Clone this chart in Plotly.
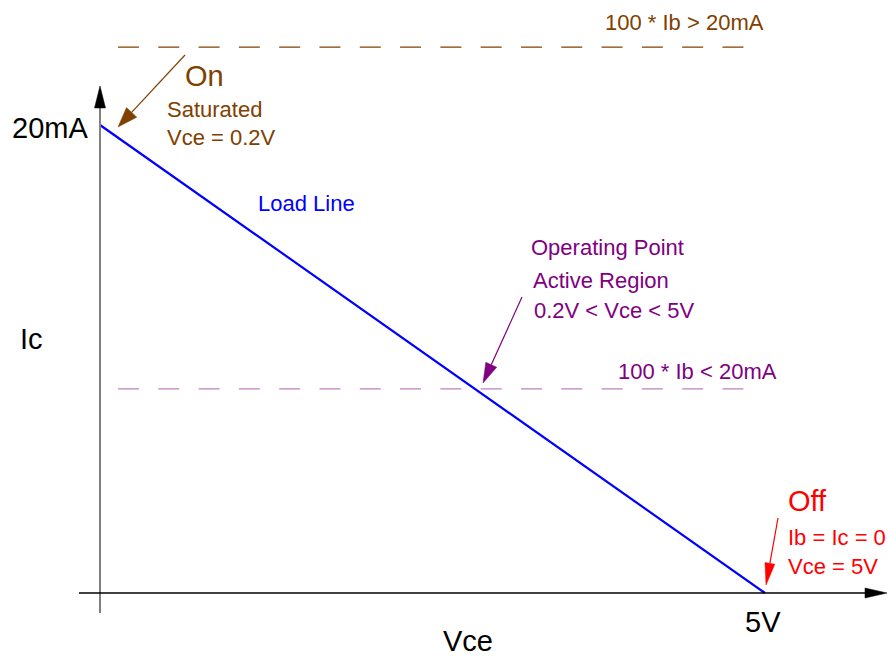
import math
import plotly.graph_objects as go

# ---------------- data ----------------
vce_load = [0, 5]          # V
ic_load = [20, 0]          # mA
sat_level = 23.33          # mA  (100*Ib > 20mA reference line)
active_level = 8.72        # mA  (100*Ib < 20mA reference line)
dash_x = [0.135, 4.86]     # V extent of the dashed reference lines

W, H = 888, 658
PX_X0, PX_PER_V = 100, 133.0
PX_Y0, PX_PER_MA = 593, 23.4


def dx(px):
    return (px - PX_X0) / PX_PER_V


def dy(py):
    return (PX_Y0 - py) / PX_PER_MA


FONT = "Liberation Sans, Arial, Helvetica, sans-serif"
BROWN = "#804000"
PURPLE = "#800080"
LPURPLE = "#c080c0"
RED = "#ff0000"
BLUE = "#0000ff"

fig = go.Figure()

fig.add_trace(go.Scatter(x=dash_x, y=[sat_level, sat_level], mode="lines",
                         line=dict(color=BROWN, width=1.3, dash="21px,19.3px"),
                         hoverinfo="skip", showlegend=False))
fig.add_trace(go.Scatter(x=dash_x, y=[active_level, active_level], mode="lines",
                         line=dict(color=LPURPLE, width=1.3, dash="21px,19.3px"),
                         hoverinfo="skip", showlegend=False))
fig.add_trace(go.Scatter(x=vce_load, y=ic_load, mode="lines",
                         line=dict(color=BLUE, width=2.2),
                         hoverinfo="skip", showlegend=False))


def arrow(tail, tip, color, lw, hl, hw, draw_line=True):
    tx, ty = tail
    px, py = tip
    L = math.hypot(px - tx, py - ty)
    ux, uy = (px - tx) / L, (py - ty) / L
    bx, by = px - ux * hl, py - uy * hl
    nx, ny = -uy, ux
    if draw_line:
        fig.add_shape(type="line", x0=dx(tx), y0=dy(ty), x1=dx(bx), y1=dy(by),
                      line=dict(color=color, width=lw))
    pts = [(px, py), (bx + nx * hw / 2, by + ny * hw / 2), (bx - nx * hw / 2, by - ny * hw / 2)]
    path = "M " + " L ".join(f"{dx(a)},{dy(b)}" for a, b in pts) + " Z"
    fig.add_shape(type="path", path=path, fillcolor=color,
                  line=dict(color=color, width=0.5))


# axes
fig.add_shape(type="line", x0=dx(100), y0=dy(613), x1=dx(100), y1=dy(106),
              line=dict(color="#808080", width=2))
arrow((100, 120), (100, 86), "black", 1, 22, 11, draw_line=False)
fig.add_shape(type="line", x0=dx(79), y0=dy(593), x1=dx(868), y1=dy(593),
              line=dict(color="black", width=1.5))
arrow((800, 593), (887, 593), "black", 1, 22, 10, draw_line=False)

# annotation arrows
arrow((185, 55), (118, 127), BROWN, 1.2, 20, 14)
arrow((522, 297), (483, 383), PURPLE, 1.2, 20, 12)
arrow((778, 518), (766, 585), RED, 1.2, 22, 10)


def text(px, py, s, size, color):
    fig.add_annotation(x=dx(px), y=dy(py), text=s, showarrow=False,
                       xanchor="left", yanchor="middle",
                       font=dict(family=FONT, size=size, color=color))


text(603, 22, "100 * Ib &gt; 20mA", 22, BROWN)
text(183, 76, "On", 29, BROWN)
text(165, 109, "Saturated", 22, BROWN)
text(165, 137, "Vce = 0.2V", 22, BROWN)
text(10, 128, "20mA", 29, "black")
text(256, 203, "Load Line", 22, BLUE)
text(529, 247, "Operating Point", 22, PURPLE)
text(531, 280, "Active Region", 22, PURPLE)
text(532, 310, "0.2V &lt; Vce &lt; 5V", 22, PURPLE)
text(616, 371, "100 * Ib &lt; 20mA", 22, PURPLE)
text(18, 339, "Ic", 29, "black")
text(441, 641, "Vce", 29, "black")
text(743, 622, "5V", 29, "black")
text(786, 501, "Off", 29, RED)
text(786, 537, "Ib = Ic = 0", 22, RED)
text(786, 566, "Vce = 5V", 22, RED)

fig.update_layout(
    width=W, height=H, autosize=False,
    margin=dict(l=0, r=0, t=0, b=0),
    paper_bgcolor="white", plot_bgcolor="white",
    xaxis=dict(visible=False, range=[dx(0), dx(W)], fixedrange=True),
    yaxis=dict(visible=False, range=[dy(H), dy(0)], fixedrange=True),
    showlegend=False,
)

fig.write_html("out.html", config={"displayModeBar": False},
               post_script="document.body.style.margin='0';document.body.style.overflow='hidden';")
